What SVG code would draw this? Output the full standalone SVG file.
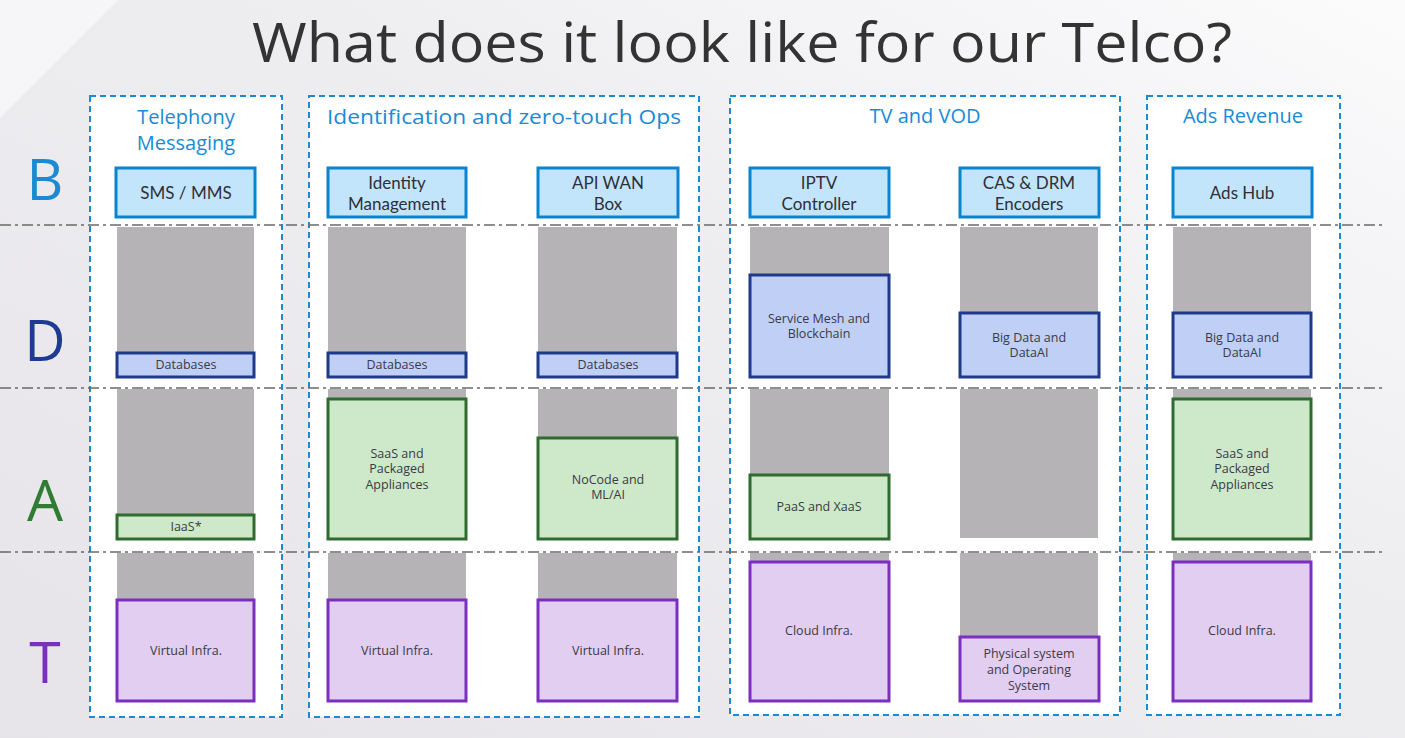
<svg xmlns="http://www.w3.org/2000/svg" width="1405" height="738" viewBox="0 0 1405 738">
<defs>
<linearGradient id="bg" x1="0" y1="1" x2="1" y2="0">
<stop offset="0" stop-color="#e6e4e8"/>
<stop offset="0.6" stop-color="#eeedf0"/>
<stop offset="1" stop-color="#fbfbfc"/>
</linearGradient>
<style>
.sans{font-family:"Open Sans","Liberation Sans",sans-serif}
.lato{font-family:Lato,"Liberation Sans",sans-serif}
.title{font-size:54px;fill:#333333}
.grp{fill:#ffffff;stroke:#1a8ad4;stroke-width:2;stroke-dasharray:6 4}
.ghead{font-size:20px;fill:#1a8ad4;text-anchor:middle}
.row{stroke:#6a6a6a;stroke-width:1.5;stroke-dasharray:11 4 3 4;fill:none}
.letter{font-size:57px;text-anchor:middle}
.gray{fill:#b5b3b6}
.b{fill:#c2e5fb;stroke:#0a84d0;stroke-width:3}
.d{fill:#bfcff5;stroke:#1f3a8a;stroke-width:3}
.a{fill:#cde9c9;stroke:#2f6b2f;stroke-width:3}
.t{fill:#e2cef0;stroke:#7a2fbf;stroke-width:3}
.bl{font-size:17px;fill:#2f2f3a;text-anchor:middle}
.sl{font-size:12.5px;fill:#3a3a48;text-anchor:middle}
</style>
</defs>
<rect x="0" y="0" width="1405" height="738" fill="url(#bg)"/>
<polygon points="0,0 118,0 0,118" fill="#f6f6f8"/>

<text class="sans title" x="742" y="62" text-anchor="middle" textLength="980" lengthAdjust="spacingAndGlyphs">What does it look like for our Telco?</text>

<!-- group containers -->
<g id="group-telephony">
<rect class="grp" x="90" y="96" width="192" height="621"/>
<text class="sans ghead" x="186" y="124">Telephony</text>
<text class="sans ghead" x="186" y="150">Messaging</text>
</g>
<g id="group-identification">
<rect class="grp" x="309" y="96" width="390" height="621"/>
<text class="sans ghead" x="504" y="124" textLength="354" lengthAdjust="spacingAndGlyphs">Identification and zero-touch Ops</text>
</g>
<g id="group-tv">
<rect class="grp" x="730" y="96" width="390" height="619"/>
<text class="sans ghead" x="925" y="123">TV and VOD</text>
</g>
<g id="group-ads">
<rect class="grp" x="1147" y="96" width="193" height="619"/>
<text class="sans ghead" x="1243" y="123">Ads Revenue</text>
</g>

<!-- row separators -->
<g id="connectors">
<line class="row" x1="0" y1="225" x2="1382" y2="225"/>
<line class="row" x1="0" y1="388" x2="1382" y2="388"/>
<line class="row" x1="0" y1="552" x2="1382" y2="552"/>
</g>

<!-- row letters -->
<g id="letters">
<text class="sans letter" x="45" y="200" fill="#1a8ad4">B</text>
<text class="sans letter" x="45" y="361" fill="#1f3a93">D</text>
<text class="sans letter" x="45" y="521" fill="#2e7d32">A</text>
<text class="sans letter" x="45" y="683" fill="#7b2fbf">T</text>
</g>

<!-- gray backgrounds -->
<g id="gray-bars">
<rect class="gray" x="117" y="227" width="137" height="150"/>
<rect class="gray" x="328" y="227" width="138" height="150"/>
<rect class="gray" x="538" y="227" width="139" height="150"/>
<rect class="gray" x="750" y="227" width="139" height="150"/>
<rect class="gray" x="960" y="227" width="138" height="150"/>
<rect class="gray" x="1173" y="227" width="138" height="150"/>
<rect class="gray" x="117" y="389" width="137" height="150"/>
<rect class="gray" x="328" y="389" width="138" height="150"/>
<rect class="gray" x="538" y="389" width="139" height="150"/>
<rect class="gray" x="750" y="389" width="139" height="150"/>
<rect class="gray" x="960" y="389" width="138" height="149"/>
<rect class="gray" x="1173" y="389" width="138" height="150"/>
<rect class="gray" x="117" y="553" width="137" height="148"/>
<rect class="gray" x="328" y="553" width="138" height="148"/>
<rect class="gray" x="538" y="553" width="139" height="148"/>
<rect class="gray" x="750" y="553" width="139" height="148"/>
<rect class="gray" x="960" y="553" width="138" height="148"/>
<rect class="gray" x="1173" y="553" width="138" height="148"/>
</g>

<!-- B row -->
<g id="sms-mms"><rect class="b" x="116" y="168" width="139" height="49"/><text class="lato bl" x="186" y="199">SMS / MMS</text></g>
<g id="identity-management"><rect class="b" x="328" y="168" width="138" height="49"/><text class="lato bl" x="397" y="189">Identity</text><text class="lato bl" x="397" y="210">Management</text></g>
<g id="api-wan-box"><rect class="b" x="538" y="168" width="140" height="49"/><text class="lato bl" x="608" y="189">API WAN</text><text class="lato bl" x="608" y="210">Box</text></g>
<g id="iptv-controller"><rect class="b" x="750" y="168" width="139" height="49"/><text class="lato bl" x="819" y="189">IPTV</text><text class="lato bl" x="819" y="210">Controller</text></g>
<g id="cas-drm-encoders"><rect class="b" x="960" y="168" width="139" height="49"/><text class="lato bl" x="1029" y="189">CAS &amp; DRM</text><text class="lato bl" x="1029" y="210">Encoders</text></g>
<g id="ads-hub"><rect class="b" x="1173" y="168" width="139" height="49"/><text class="lato bl" x="1242" y="199">Ads Hub</text></g>

<!-- D row -->
<g id="databases-1"><rect class="d" x="117" y="353" width="137" height="24"/><text class="sans sl" x="186" y="369">Databases</text></g>
<g id="databases-2"><rect class="d" x="328" y="353" width="138" height="24"/><text class="sans sl" x="397" y="369">Databases</text></g>
<g id="databases-3"><rect class="d" x="538" y="353" width="139" height="24"/><text class="sans sl" x="608" y="369">Databases</text></g>
<g id="service-mesh"><rect class="d" x="750" y="275" width="139" height="102"/><text class="sans sl" x="819" y="323">Service Mesh and</text><text class="sans sl" x="819" y="338">Blockchain</text></g>
<g id="big-data-1"><rect class="d" x="960" y="313" width="139" height="64"/><text class="sans sl" x="1029" y="342">Big Data and</text><text class="sans sl" x="1029" y="357">DataAI</text></g>
<g id="big-data-2"><rect class="d" x="1173" y="313" width="138" height="64"/><text class="sans sl" x="1242" y="342">Big Data and</text><text class="sans sl" x="1242" y="357">DataAI</text></g>

<!-- A row -->
<g id="iaas"><rect class="a" x="117" y="515" width="137" height="24"/><text class="sans sl" x="186" y="531">IaaS*</text></g>
<g id="saas-1"><rect class="a" x="328" y="399" width="138" height="140"/><text class="sans sl" x="397" y="458">SaaS and</text><text class="sans sl" x="397" y="473">Packaged</text><text class="sans sl" x="397" y="489">Appliances</text></g>
<g id="nocode"><rect class="a" x="538" y="438" width="139" height="101"/><text class="sans sl" x="608" y="484">NoCode and</text><text class="sans sl" x="608" y="499">ML/AI</text></g>
<g id="paas-xaas"><rect class="a" x="750" y="475" width="139" height="64"/><text class="sans sl" x="819" y="511">PaaS and XaaS</text></g>
<g id="saas-2"><rect class="a" x="1173" y="399" width="138" height="140"/><text class="sans sl" x="1242" y="458">SaaS and</text><text class="sans sl" x="1242" y="473">Packaged</text><text class="sans sl" x="1242" y="489">Appliances</text></g>

<!-- T row -->
<g id="virtual-infra-1"><rect class="t" x="117" y="600" width="137" height="101"/><text class="sans sl" x="186" y="655">Virtual Infra.</text></g>
<g id="virtual-infra-2"><rect class="t" x="328" y="600" width="138" height="101"/><text class="sans sl" x="397" y="655">Virtual Infra.</text></g>
<g id="virtual-infra-3"><rect class="t" x="538" y="600" width="139" height="101"/><text class="sans sl" x="608" y="655">Virtual Infra.</text></g>
<g id="cloud-infra-1"><rect class="t" x="750" y="562" width="139" height="139"/><text class="sans sl" x="819" y="635">Cloud Infra.</text></g>
<g id="physical-system"><rect class="t" x="960" y="637" width="139" height="64"/><text class="sans sl" x="1029" y="658">Physical system</text><text class="sans sl" x="1029" y="674">and Operating</text><text class="sans sl" x="1029" y="690">System</text></g>
<g id="cloud-infra-2"><rect class="t" x="1173" y="562" width="138" height="139"/><text class="sans sl" x="1242" y="635">Cloud Infra.</text></g>
</svg>
